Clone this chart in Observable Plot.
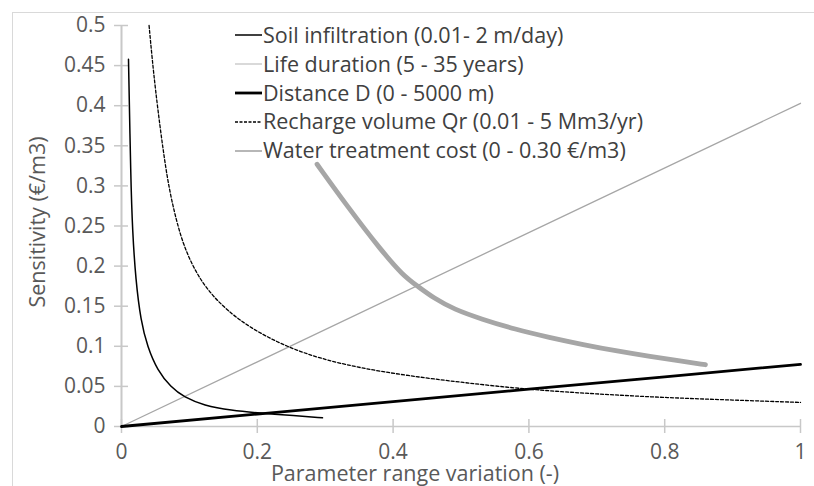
<!DOCTYPE html>
<html><head><meta charset="utf-8">
<script src="https://cdn.jsdelivr.net/npm/d3@7"></script>
<script src="https://cdn.jsdelivr.net/npm/@observablehq/plot@0.6"></script>
<style>
body{margin:0;background:#fff;font-family:"Open Sans",sans-serif;}
#wrap{position:relative;width:814px;height:486px;overflow:hidden;background:#fff;}
#frame{position:absolute;left:12px;top:12px;width:900px;height:600px;border-top:1px solid #d9d9d9;border-left:1px solid #d9d9d9;}
#chart{position:absolute;left:0;top:0;}
#legend{position:absolute;left:235px;top:21px;font-size:21.5px;color:#404040;}
.row{height:28.8px;line-height:28.8px;white-space:nowrap;display:flex;align-items:center;}
.row svg{flex:none;margin-right:1px;}
#xt{position:absolute;left:415px;top:473px;transform:translate(-50%,-50%);font-size:21.5px;line-height:24px;color:#595959;white-space:nowrap;}
#yt{position:absolute;left:37px;top:222px;transform:translate(-50%,-50%) rotate(-90deg);font-size:21.5px;line-height:24px;color:#595959;white-space:nowrap;}
</style></head>
<body>
<div id="wrap"><div id="frame"></div><div id="chart"></div><div id="legend"></div>
<div id="xt">Parameter range variation (-)</div><div id="yt">Sensitivity (€/m3)</div></div>
<script>
// Tick values
const xTicks = [0, 0.2, 0.4, 0.6, 0.8, 1];
const yTicks = [0, 0.05, 0.1, 0.15, 0.2, 0.25, 0.3, 0.35, 0.4, 0.45, 0.5];

// Series names
const seriesNames = [
  "Soil infiltration (0.01- 2 m/day)",
  "Life duration (5 - 35 years)",
  "Distance D (0 - 5000 m)",
  "Recharge volume Qr (0.01 - 5 Mm3/yr)",
  "Water treatment cost (0 - 0.30 €/m3)"
];

// Soil infiltration
const soilX = [0.0103, 0.0137, 0.0162, 0.021, 0.0284, 0.0383, 0.053, 0.0726, 0.0922, 0.1216, 0.161, 0.205, 0.254, 0.296];
const soilY = [0.458, 0.307, 0.244, 0.182, 0.132, 0.099, 0.0698, 0.049, 0.0365, 0.0262, 0.020, 0.0166, 0.0137, 0.0108];

// Life duration (thick grey curve)
const lifeX = [0.288, 0.333, 0.382, 0.415, 0.436, 0.46, 0.49, 0.53, 0.58, 0.63, 0.68, 0.73, 0.78, 0.82, 0.86];
const lifeY = [0.327, 0.274, 0.220, 0.188, 0.175, 0.160, 0.146, 0.134, 0.121, 0.111, 0.102, 0.094, 0.087, 0.082, 0.077];

// Distance D
const distX = [0, 0.2, 0.4, 0.6, 0.8, 1];
const distY = [0, 0.0155, 0.031, 0.0465, 0.062, 0.0775];

// Recharge volume Qr (dashed)
const rechX = [0.0406, 0.045, 0.05, 0.058, 0.0677, 0.0775, 0.0898, 0.107, 0.1266, 0.156, 0.195, 0.2444, 0.2934, 0.3523, 0.42, 0.5, 0.6, 0.7, 0.8, 0.9, 1.0];
const rechY = [0.500, 0.46, 0.42, 0.365, 0.307, 0.268, 0.229, 0.196, 0.170, 0.144, 0.120, 0.099, 0.0845, 0.0728, 0.0635, 0.055, 0.046, 0.0405, 0.036, 0.033, 0.030];

// Water treatment cost (thin grey line)
const waterX = [0, 1];
const waterY = [0, 0.403];

const toRows = (xs, ys) => xs.map((x, i) => ({x, y: ys[i]}));
const fmt = d => String(+d.toFixed(2));
const axisGrey = "#c8c8c8";

const plot = Plot.plot({
  width: 814, height: 486,
  marginLeft: 121, marginRight: 14, marginTop: 25, marginBottom: 60,
  x: {domain: [0, 1]},
  y: {domain: [0, 0.5]},
  style: {fontFamily: "Open Sans", fontSize: "21px", color: "#595959", background: "transparent", overflow: "visible"},
  marks: [
    Plot.ruleX([0], {stroke: axisGrey, strokeWidth: 2}),
    Plot.ruleY([0], {stroke: axisGrey, strokeWidth: 1.5}),
    Plot.axisY({ticks: yTicks, tickSize: 14, dx: 7, tickFormat: () => "", stroke: axisGrey, strokeWidth: 1.5, label: null}),
    Plot.axisY({ticks: yTicks, tickSize: 0, tickPadding: 16, tickFormat: fmt, fill: "#595959", fontSize: 21, label: null}),
    Plot.axisX({ticks: xTicks, tickSize: 14, dy: -7, tickFormat: () => "", stroke: axisGrey, strokeWidth: 1.5, label: null}),
    Plot.axisX({ticks: xTicks, tickSize: 0, tickPadding: 18, tickFormat: fmt, fill: "#595959", fontSize: 21, label: null}),
    Plot.line(toRows(waterX, waterY), {x: "x", y: "y", stroke: "#a6a6a6", strokeWidth: 1.3}),
    Plot.line(toRows(lifeX, lifeY), {x: "x", y: "y", curve: "basis", stroke: "#a6a6a6", strokeWidth: 4.8, strokeLinecap: "round"}),
    Plot.line(toRows(rechX, rechY), {x: "x", y: "y", curve: "basis", stroke: "#000", strokeWidth: 1.3, strokeDasharray: "3,2"}),
    Plot.line(toRows(distX, distY), {x: "x", y: "y", stroke: "#000", strokeWidth: 2.8}),
    Plot.line(toRows(soilX, soilY), {x: "x", y: "y", curve: "basis", stroke: "#000", strokeWidth: 1.5})
  ]
});
document.getElementById("chart").appendChild(plot);

// Legend
const swatches = [
  {stroke: "#000", w: 1.5, dash: null},
  {stroke: "#c0c0c0", w: 1.2, dash: null},
  {stroke: "#000", w: 2.8, dash: null},
  {stroke: "#000", w: 1.3, dash: "3,1.5"},
  {stroke: "#a6a6a6", w: 1.6, dash: null}
];
const legend = document.getElementById("legend");
seriesNames.forEach((name, i) => {
  const s = swatches[i];
  const row = document.createElement("div");
  row.className = "row";
  row.innerHTML = `<svg width="27" height="10"><line x1="0" x2="27" y1="5" y2="5" stroke="${s.stroke}" stroke-width="${s.w}" ${s.dash ? `stroke-dasharray="${s.dash}"` : ""}/></svg><span>${name}</span>`;
  legend.appendChild(row);
});
</script>
</body></html>
